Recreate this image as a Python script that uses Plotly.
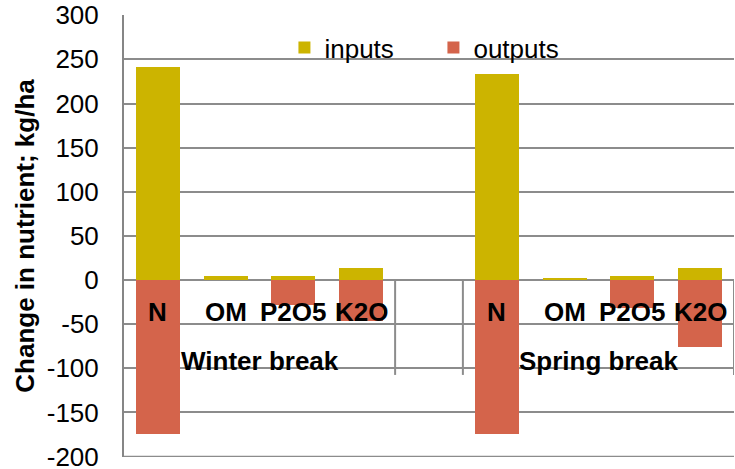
import plotly.graph_objects as go

# ---- data ----
categories = ["N", "OM", "P2O5", "K2O"]
groups = ["Winter break", "Spring break"]
inputs_winter = [241, 5, 5, 14]
outputs_winter = [-174, 0, -28, -46]
inputs_spring = [233, 2.5, 5, 14]
outputs_spring = [-174, 0, -32, -76]
y_ticks = [-200, -150, -100, -50, 0, 50, 100, 150, 200, 250, 300]
y_tick_labels = ["-200", "-150", "-100", "-50", "0", "50", "100", "150", "200", "250", "300"]

# ---- styling ----
FONT = "Liberation Sans, Arial, sans-serif"
C_IN = "#CCB400"
C_OUT = "#D4644B"
GRID = "#8C8C8C"

n = len(categories)
x_w = list(range(n))
x_s = [i + n + 1 for i in range(n)]
xs = x_w + x_s
inputs = inputs_winter + inputs_spring
outputs = outputs_winter + outputs_spring

fig = go.Figure()
fig.add_bar(x=xs, y=inputs, name="inputs", marker_color=C_IN, width=0.65,
            marker_line_width=0)
fig.add_bar(x=xs, y=outputs, name="outputs", marker_color=C_OUT, width=0.65,
            marker_line_width=0)

annotations = []
labels = categories + categories
for x, lab in zip(xs, labels):
    annotations.append(dict(x=x, y=0, xref="x", yref="y", text=lab, showarrow=False,
                            yanchor="middle", yshift=-32,
                            font=dict(family=FONT, size=26, color="black", weight="bold")))
for g, xg in zip(groups, [x_w, x_s]):
    annotations.append(dict(x=sum(xg) / len(xg), y=0, xref="x", yref="y", text=g,
                            showarrow=False, yanchor="middle", yshift=-81,
                            font=dict(family=FONT, size=26, color="black", weight="bold")))

shapes = []
for xb in [n - 0.5, n + 0.5, 2 * n + 0.5]:
    shapes.append(dict(type="line", xref="x", yref="y", x0=xb, x1=xb, y0=0, y1=-107.5,
                       line=dict(color=GRID, width=2)))
# bottom gridline at the lowest tick
shapes.append(dict(type="line", xref="paper", yref="y", x0=0, x1=1,
                   y0=min(y_ticks), y1=min(y_ticks), line=dict(color=GRID, width=1.5),
                   layer="below"))

fig.update_layout(
    barmode="relative",
    width=735, height=469,
    margin=dict(l=124, r=1, t=15, b=12),
    paper_bgcolor="white", plot_bgcolor="white",
    font=dict(family=FONT, size=26, color="black"),
    showlegend=True,
    legend=dict(orientation="h", x=0.263, y=0.926, xanchor="left", yanchor="middle",
                font=dict(family=FONT, size=26, color="black"),
                entrywidth=104, entrywidthmode="pixels", bgcolor="rgba(0,0,0,0)"),
    annotations=annotations,
    shapes=shapes,
    bargap=0,
)
fig.update_xaxes(range=[-0.5, 2 * n + 0.5], showticklabels=False, showgrid=False,
                 zeroline=False, showline=False, ticks="")
fig.update_yaxes(range=[-200.5, 300.3], tickvals=y_ticks, ticktext=y_tick_labels,
                 showgrid=True, gridcolor=GRID,
                 gridwidth=1.5, zeroline=True, zerolinecolor=GRID, zerolinewidth=2,
                 showline=True, linecolor="#868686", linewidth=2, ticks="",
                 ticklabelstandoff=18, ticklabeloverflow="allow",
                 tickfont=dict(family=FONT, size=26, color="black"),
                 title=dict(text="Change in nutrient; kg/ha", standoff=5,
                            font=dict(family=FONT, size=26, color="black", weight="bold")),
                 automargin=False)

fig.write_html("out.html", config={"displayModeBar": False},
               post_script="document.body.style.margin='0';document.body.style.overflow='hidden';")
